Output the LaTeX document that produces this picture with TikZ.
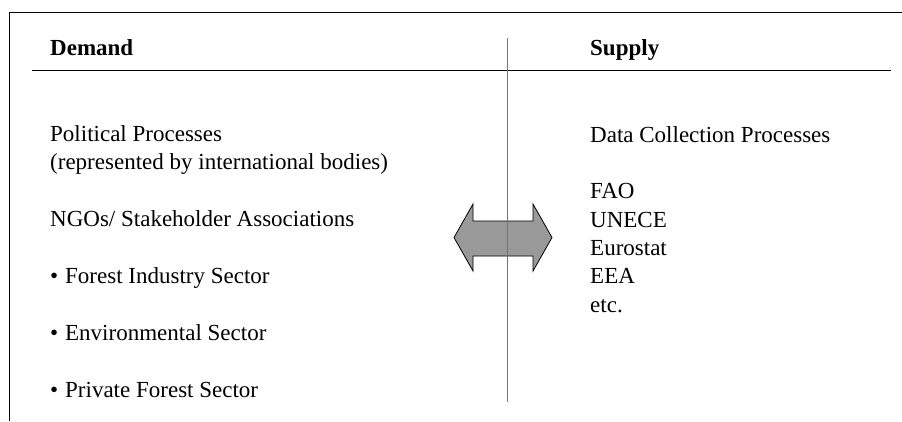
\documentclass[tikz,border=0pt]{standalone}
\usepackage{fontspec}
\setmainfont{Liberation Serif}
\newcommand{\bul}{\makebox[15bp][l]{\textbullet}}
\begin{document}
\begin{tikzpicture}[x=1bp,y=-1bp,
  txt/.style={anchor=base west, inner sep=0pt, font=\fontsize{23bp}{28bp}\selectfont},
  hdr/.style={anchor=base west, inner sep=0pt, font=\fontsize{23bp}{28bp}\selectfont\bfseries},
  frame/.style={line width=1bp, black},
  divider/.style={line width=1bp, black!55},
  dblarrow/.style={fill=black!40, draw=black, line width=0.8bp, line join=miter}]
\useasboundingbox (0,0) rectangle (902,421);
% frame and header rule
\draw[frame] (9.5,421) -- (9.5,12.5) -- (902,12.5);
\draw[frame] (32,70) -- (891,70);
% double arrow
\draw[dblarrow] (454,237.5) -- (473,204) -- (473,221) -- (533,221) -- (533,204)
  -- (552,237.5) -- (533,271) -- (533,256) -- (473,256) -- (473,271) -- cycle;
% divider
\coordinate (dtop) at (507,38);
\coordinate (dbot) at (507,401.5);
\draw[divider] (dtop) -- (dbot);
% headers
\node[hdr] (demand) at (50,55) {Demand};
\node[hdr] (supply) at (590,55) {Supply};
% left column
\node[txt] (pol) at (50,141) {Political Processes};
\node[txt] (rep) at (50,169.5) {(represented by international bodies)};
\node[txt] (ngo) at (50,226) {NGOs/ Stakeholder Associations};
\node[txt] (fis) at (50,283) {\bul Forest Industry Sector};
\node[txt] (env) at (50,340) {\bul Environmental Sector};
\node[txt] (pfs) at (50,397) {\bul Private Forest Sector};
% right column
\node[txt] (dcp) at (590,142) {Data Collection Processes};
\node[txt] (fao) at (590,198) {FAO};
\node[txt] (unece) at (590,227) {UNECE};
\node[txt] (euro) at (590,255) {Eurostat};
\node[txt] (eea) at (590,283) {EEA};
\node[txt] (etc) at (590,312) {etc.};
\end{tikzpicture}
\end{document}
